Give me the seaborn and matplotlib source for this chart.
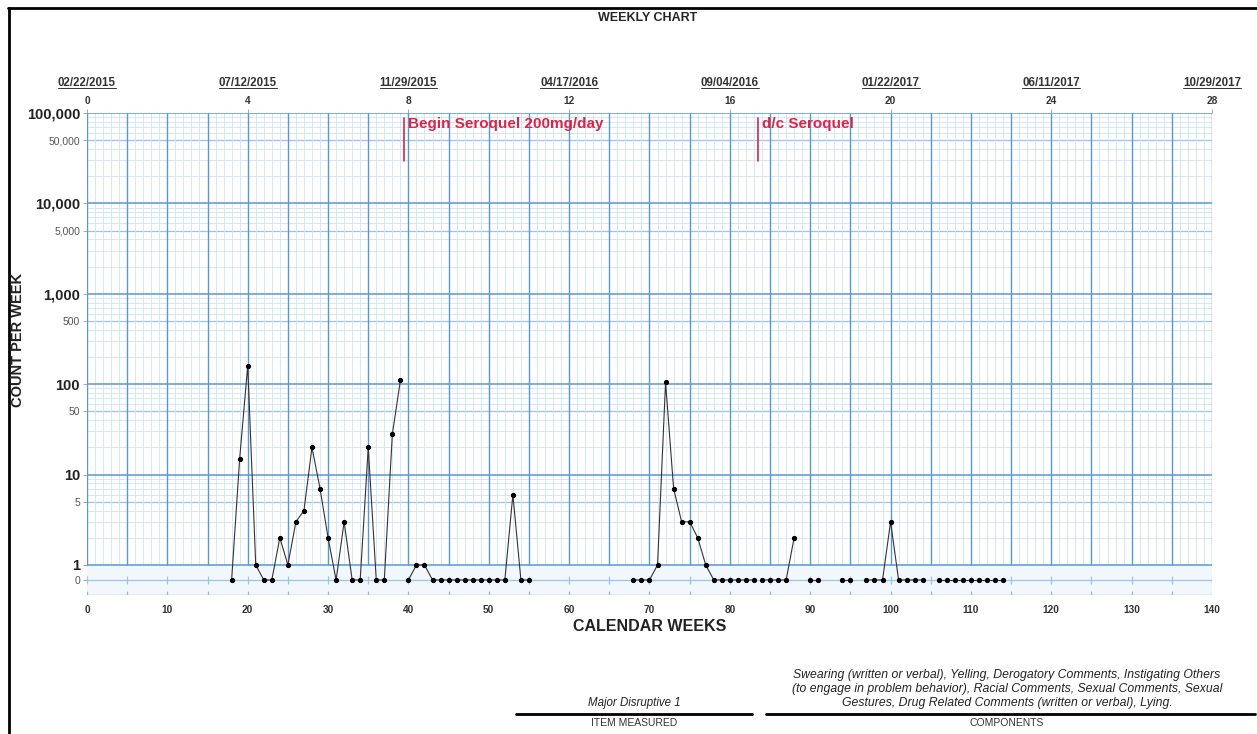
import numpy as np
import pandas as pd
import seaborn as sns
import matplotlib.pyplot as plt
from matplotlib.lines import Line2D
import matplotlib.transforms as mtransforms

sns.set_theme(style="white")
plt.rcParams['font.family'] = ['Liberation Sans', 'DejaVu Sans']

# data (week number, count per week)
weeks = [18, 19, 20, 21, 22, 23, 24, 25, 26, 27, 28, 29, 30, 31, 32, 33, 34, 35, 36, 37, 38, 39,
         40, 41, 42, 43, 44, 45, 46, 47, 48, 49, 50, 51, 52, 53, 54, 55,
         68, 69, 70, 71, 72, 73, 74, 75, 76, 77, 78, 79, 80, 81, 82, 83,
         84, 85, 86, 87, 88,
         90, 91,
         94, 95,
         97, 98, 99, 100, 101, 102, 103, 104,
         106, 107, 108, 109, 110, 111, 112, 113, 114]
counts = [0, 15, 160, 1, 0, 0, 2, 1, 3, 4, 20, 7, 2, 0, 3, 0, 0, 20, 0, 0, 28, 110,
          0, 1, 1, 0, 0, 0, 0, 0, 0, 0, 0, 0, 0, 6, 0, 0,
          0, 0, 0, 1, 105, 7, 3, 3, 2, 1, 0, 0, 0, 0, 0, 0,
          0, 0, 0, 0, 2,
          0, 0,
          0, 0,
          0, 0, 0, 3, 0, 0, 0, 0,
          0, 0, 0, 0, 0, 0, 0, 0, 0]

phase_weeks = [39.5, 83.5]
phase_labels = ["Begin Seroquel 200mg/day", "d/c Seroquel"]

top_dates = ["02/22/2015", "07/12/2015", "11/29/2015", "04/17/2016",
             "09/04/2016", "01/22/2017", "06/11/2017", "10/29/2017"]
top_numbers = ["0", "4", "8", "12", "16", "20", "24", "28"]
top_positions = [0, 20, 40, 60, 80, 100, 120, 140]

ytick_vals = [100000, 50000, 10000, 5000, 1000, 500, 100, 50, 10, 5, 1, 0]
ytick_text = ["100,000", "50,000", "10,000", "5,000", "1,000", "500",
              "100", "50", "10", "5", "1", "0"]

components = ("Swearing (written or verbal), Yelling, Derogatory Comments, Instigating Others\n"
              "(to engage in problem behavior), Racial Comments, Sexual Comments, Sexual\n"
              "Gestures, Drug Related Comments (written or verbal), Lying.")

df = pd.DataFrame({"week": weeks, "count": counts})
# break the line at missing weeks and at phase change lines
brk = df["week"].diff().fillna(1) > 1
for p in phase_weeks:
    brk |= (df["week"] > p) & (df["week"].shift(1) < p)
df["segment"] = brk.cumsum()

# count scale: log above 1, a small linear strip below for the zero row
S = 0.166


def fwd(v):
    v = np.asarray(v, dtype=float)
    with np.errstate(divide='ignore', invalid='ignore'):
        return np.where(v >= 1, np.log10(np.maximum(v, 1)), S * (v - 1))


def inv(y):
    y = np.asarray(y, dtype=float)
    with np.errstate(over='ignore'):
        return np.where(y >= 0, 10 ** np.maximum(y, 0), 1 + y / S)


fig = plt.figure(figsize=(12.57, 7.34), dpi=100)
ax = fig.add_axes([0.0692, 0.1894, 0.8950, 0.6567])
ax.set_yscale('function', functions=(fwd, inv))
ax.set_xlim(0, 140)
ax.set_ylim(-1, 100000)
for s in ax.spines.values():
    s.set_visible(False)

major_c = "#5a97d2"
mid_c = "#9cc4ea"
minor_c = "#cfe3f5"

ax.axhspan(-1, 1, color="#f1f7fd", zorder=0)

# horizontal grid
for d in [1, 10, 100, 1000, 10000]:
    for m in range(2, 10):
        ax.hlines(d * m, 0, 140, color=mid_c if m == 5 else minor_c,
                  lw=0.9 if m == 5 else 0.6, zorder=1)
for d in [1, 10, 100, 1000, 10000, 100000]:
    ax.hlines(d, 0, 140, color=major_c, lw=1.1, zorder=2)
ax.hlines(0, 0, 140, color=mid_c, lw=0.9, zorder=1)
ax.hlines(-1, 0, 140, color="#9db5c9", lw=1.0, zorder=1)

# vertical grid
for w in range(0, 141):
    if w % 5 == 0:
        ax.vlines(w, 1, 100000, color=major_c, lw=1.0, zorder=2)
        ax.vlines(w, -0.25, 0.25, color=mid_c, lw=0.9, zorder=1)
        ax.vlines(w, -1.25, -0.75, color="#9db5c9", lw=0.9, zorder=1)
    else:
        ax.vlines(w, 1, 100000, color=minor_c, lw=0.6, zorder=1)

sns.lineplot(data=df, x="week", y="count", units="segment", estimator=None,
             color="#333333", lw=0.8, marker="o", markersize=3.0,
             markeredgecolor="black", markerfacecolor="black", ax=ax, zorder=5)

# phase change lines
red = "#dc2446"
for p, lab in zip(phase_weeks, phase_labels):
    ax.axvline(p, ymin=0.90, ymax=0.99, color=red, lw=1.2, zorder=6)
    ax.text(p + 0.5, 0.977, lab, transform=ax.get_xaxis_transform(),
            color=red, fontsize=11, fontweight="bold", va="center", ha="left", zorder=6)

ax.set_xlabel("")
ax.set_ylabel("")
ax.set_xticks(range(0, 141, 10))
ax.set_xticklabels([str(v) for v in range(0, 141, 10)], fontsize=7.3,
                   fontweight="bold", color="#333333")
ax.tick_params(axis="x", length=0, pad=7)
ax.set_yticks(ytick_vals)
ax.set_yticklabels(ytick_text)
ax.yaxis.set_minor_locator(plt.NullLocator())
ax.tick_params(axis="y", length=3, width=0.6, color="#999999", pad=2, left=True)
for t, v in zip(ax.get_yticklabels(), ytick_vals):
    if v in (1, 10, 100, 1000, 10000, 100000):
        t.set_fontsize(10.5)
        t.set_fontweight("bold")
        t.set_color("#222222")
    else:
        t.set_fontsize(7.5)
        t.set_color("#555555")

top = ax.secondary_xaxis("top")
top.set_xticks(top_positions)
top.set_xticklabels(top_numbers, fontsize=7.3, fontweight="bold", color="#333333")
top.tick_params(length=3, width=0.6, color="#999999", pad=2)
top.spines["top"].set_visible(False)

trans = mtransforms.blended_transform_factory(ax.transData, ax.transAxes)
date_texts = []
for x, d in zip(top_positions, top_dates):
    date_texts.append(ax.text(x, 1.062, d, transform=trans, ha="center", va="center",
                              fontsize=8.3, fontweight="bold", color="#333333"))

fig.text(0.5155, 0.976, "WEEKLY CHART", ha="center", va="center",
         fontsize=9, fontweight="bold")
fig.text(0.5167, 0.1458, "CALENDAR WEEKS", ha="center", va="center",
         fontsize=11.5, fontweight="bold", color="#222222")
fig.text(0.0143, 0.537, "COUNT PER WEEK", ha="center", va="center", rotation=90,
         fontsize=10.5, fontweight="bold", color="#222222")

# bottom info block
fig.text(0.5044, 0.0422, "Major Disruptive 1", ha="center", va="center",
         fontsize=8.3, style="italic", color="#222222")
fig.text(0.5044, 0.0150, "ITEM MEASURED", ha="center", va="center",
         fontsize=7.5, color="#333333")
fig.text(0.8011, 0.0613, components, ha="center", va="center",
         fontsize=8.8, style="italic", color="#222222", linespacing=1.25)
fig.text(0.8011, 0.0150, "COMPONENTS", ha="center", va="center",
         fontsize=7.5, color="#333333")
fig.add_artist(Line2D([516 / 1257, 752 / 1257], [0.0272, 0.0272], color="black", lw=2))
fig.add_artist(Line2D([766 / 1257, 1255 / 1257], [0.0272, 0.0272], color="black", lw=2))

# page border
fig.add_artist(Line2D([8 / 1257, 1.0], [0.989, 0.989], color="black", lw=2))
fig.add_artist(Line2D([0.0072, 0.0072], [0.0, 0.989], color="black", lw=2))

# underline the dates
fig.canvas.draw()
r = fig.canvas.get_renderer()
inv_fig = fig.transFigure.inverted()
for t in date_texts:
    bb = t.get_window_extent(r)
    (x0, y0), (x1, y1) = inv_fig.transform([[bb.x0, bb.y0], [bb.x1, bb.y1]])
    fig.add_artist(Line2D([x0, x1], [y0 + 0.002, y0 + 0.002], color="#333333", lw=0.7))

fig.savefig("out.png", dpi=100)
